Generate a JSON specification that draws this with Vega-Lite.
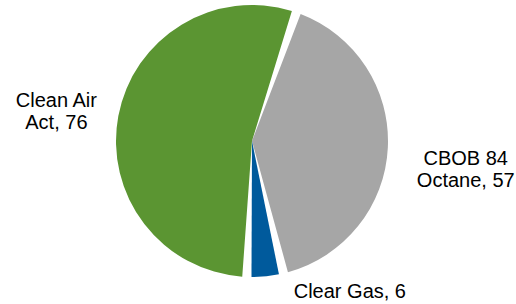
{
  "$schema": "https://vega.github.io/schema/vega-lite/v6.json",
  "width": 504,
  "height": 282,
  "autosize": {"type": "none"},
  "padding": {"left": 0, "right": 12, "top": 0, "bottom": 22},
  "background": "white",
  "view": {"stroke": null},
  "data": {
    "values": [
      {"category": "CBOB 84 Octane", "value": 57, "rank": 1, "label": ["CBOB 84", "Octane, 57"]},
      {"category": "Clear Gas", "value": 6, "rank": 2, "label": ["Clear Gas, 6"]},
      {"category": "Clean Air Act", "value": 76, "rank": 3, "label": ["Clean Air", "Act, 76"]}
    ]
  },
  "encoding": {
    "theta": {"field": "value", "type": "quantitative", "stack": true, "scale": {"domain": [0, 139], "range": [0.3316, 6.6148]}},
    "order": {"field": "rank", "type": "quantitative"}
  },
  "layer": [
    {
      "mark": {"type": "arc", "outerRadius": 136, "padAngle": 0.068},
      "encoding": {
        "color": {
          "field": "category",
          "type": "nominal",
          "scale": {"domain": ["CBOB 84 Octane", "Clear Gas", "Clean Air Act"], "range": ["#A6A6A6", "#005A9C", "#5B9532"]},
          "legend": null
        }
      }
    },
    {
      "mark": {"type": "text", "radius": 199, "dy": -3, "font": "Liberation Sans", "fontSize": 20, "lineHeight": 22, "align": "center", "baseline": "middle", "color": "#000000"},
      "encoding": {"text": {"condition": {"test": "datum.rank == 3", "field": "label"}, "value": ""}}
    },
    {
      "mark": {"type": "text", "radius": 214, "dy": 7, "font": "Liberation Sans", "fontSize": 20, "lineHeight": 22, "align": "center", "baseline": "middle", "color": "#000000"},
      "encoding": {"text": {"condition": {"test": "datum.rank == 1", "field": "label"}, "value": ""}}
    },
    {
      "mark": {"type": "text", "radius": 152, "dx": 83, "font": "Liberation Sans", "fontSize": 20, "lineHeight": 22, "align": "center", "baseline": "middle", "color": "#000000"},
      "encoding": {"text": {"condition": {"test": "datum.rank == 2", "field": "label"}, "value": ""}}
    }
  ]
}
